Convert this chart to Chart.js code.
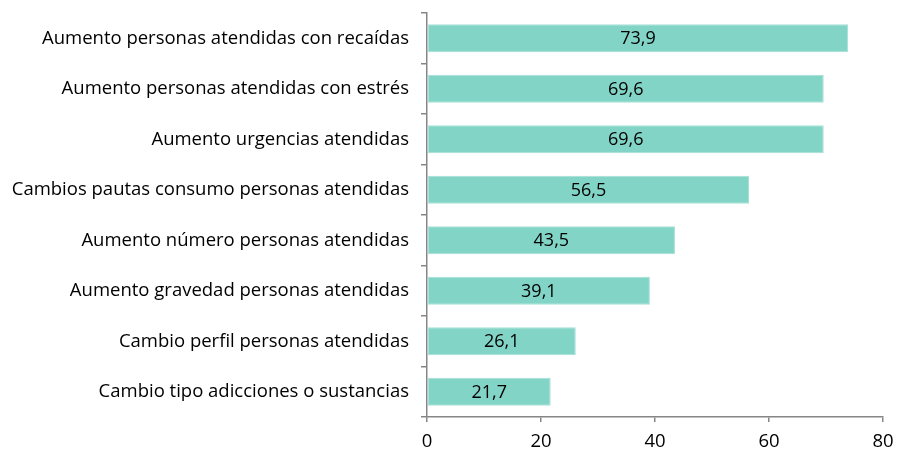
<!DOCTYPE html>
<html><head><meta charset="utf-8">
<script src="https://cdn.jsdelivr.net/npm/chart.js@4/dist/chart.umd.min.js"></script>
<style>html,body{margin:0;padding:0;background:#fff}#w{width:897px;height:452px}</style>
</head><body><div id="w"><canvas id="c"></canvas></div>
<script>
const categories = ["Aumento personas atendidas con recaídas","Aumento personas atendidas con estrés","Aumento urgencias atendidas","Cambios pautas consumo personas atendidas","Aumento número personas atendidas","Aumento gravedad personas atendidas","Cambio perfil personas atendidas","Cambio tipo adicciones o sustancias"];
const values = [73.9,69.6,69.6,56.5,43.5,39.1,26.1,21.7];
const xTicks = [0,20,40,60,80];
const FONT = "'Open Sans', sans-serif";
const labelPlugin = {
  id:'lbl',
  afterDatasetsDraw(chart){
    const ctx=chart.ctx; const meta=chart.getDatasetMeta(0);
    ctx.save(); ctx.font="18px "+FONT; ctx.fillStyle="#000"; ctx.textAlign="center"; ctx.textBaseline="middle";
    meta.data.forEach((b,i)=>{ const x=(b.x+b.base)/2; ctx.fillText(values[i].toFixed(1).replace('.',','), x, b.y+1); });
    ctx.restore();
  }
};
new Chart(document.getElementById('c'),{
  type:'bar',
  data:{labels:categories,datasets:[{data:values,backgroundColor:'#82d4c6',borderColor:'#a6e0d6',borderWidth:1,borderSkipped:false,barPercentage:0.555,categoryPercentage:1}]},
  options:{indexAxis:'y',responsive:true,maintainAspectRatio:false,animation:false,
    layout:{padding:{top:13,right:14,left:0,bottom:0}},
    plugins:{legend:{display:false},tooltip:{enabled:false}},
    scales:{
      x:{min:0,max:80,afterBuildTicks(s){s.ticks=xTicks.map(v=>({value:v}));},
        afterFit(s){s.height=35;s.paddingLeft=0;s.paddingRight=0;},
        grid:{drawOnChartArea:false,drawTicks:true,tickLength:5,color:'#868686',lineWidth:1.5},
        border:{display:true,color:'#868686',width:1.5},
        ticks:{font:{family:FONT,size:18.5},color:'#000',padding:9,maxRotation:0}},
      y:{afterFit(s){s.width=427;s.paddingTop=0;s.paddingBottom=0;},
        grid:{drawOnChartArea:false,drawTicks:true,tickLength:6,color:'#868686',lineWidth:1.5,offset:true},
        border:{display:true,color:'#868686',width:1.5},
        ticks:{font:{family:FONT,size:18.5},color:'#000',padding:12,autoSkip:false}}
    }
  },
  plugins:[labelPlugin]
});
</script></body></html>
